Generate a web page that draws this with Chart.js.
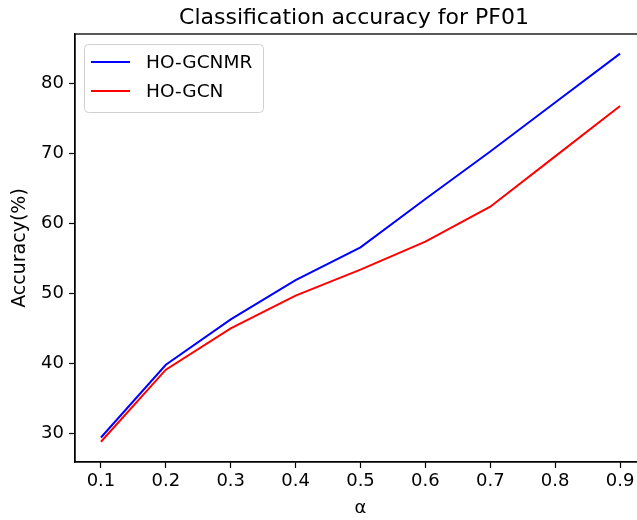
<!DOCTYPE html>
<html>
<head>
<meta charset="utf-8">
<script src="https://cdn.jsdelivr.net/npm/chart.js@4/dist/chart.umd.min.js"></script>
<style>
    html, body { margin: 0; padding: 0; background: #fff; overflow: hidden; }
    #wrap { width: 708px; height: 520px; }
</style>
</head>
<body>
<div id="wrap"><canvas id="chart" width="708" height="520"></canvas></div>
<script>
// 数据
const alphas = [0.1, 0.2, 0.3, 0.4, 0.5, 0.6, 0.7, 0.8, 0.9];
const accGcnmr = [29.4, 39.8, 46.3, 51.9, 56.6, 63.5, 70.3, 77.3, 84.3];
const accGcn = [28.8, 39.1, 45.0, 49.7, 53.4, 57.4, 62.4, 69.6, 76.8];
const seriesNames = ['HO-GCNMR', 'HO-GCN'];
const xTicks = [0.1, 0.2, 0.3, 0.4, 0.5, 0.6, 0.7, 0.8, 0.9];
const yTicks = [30, 40, 50, 60, 70, 80];

const FONT = "'DejaVu Sans', sans-serif";

const toPoints = (xs, ys) => xs.map((x, i) => ({ x: x, y: ys[i] }));

// 画出上边和右边的框线
const framePlugin = {
    id: 'frame',
    afterDraw(chart) {
        const { ctx, chartArea: a } = chart;
        ctx.save();
        ctx.strokeStyle = '#000';
        ctx.lineWidth = 1.3;
        ctx.strokeRect(a.left, a.top, a.right - a.left, a.bottom - a.top);
        ctx.restore();
    }
};

// matplotlib 风格的图例
const legendBoxPlugin = {
    id: 'legendBox',
    afterDraw(chart) {
        const { ctx, chartArea: a } = chart;
        const x = a.left + 9, y = a.top + 10, w = 179, h = 68;
        ctx.save();
        ctx.fillStyle = 'rgba(255,255,255,0.8)';
        ctx.strokeStyle = '#d0d0d0';
        ctx.lineWidth = 1;
        ctx.beginPath();
        ctx.roundRect(x + 0.5, y + 0.5, w, h, 4);
        ctx.fill();
        ctx.stroke();
        ctx.font = '18.5px ' + FONT;
        ctx.textBaseline = 'middle';
        chart.data.datasets.forEach((ds, i) => {
            const rowY = y + 18 + i * 29;
            ctx.strokeStyle = ds.borderColor;
            ctx.lineWidth = ds.borderWidth;
            ctx.beginPath();
            ctx.moveTo(x + 7, rowY);
            ctx.lineTo(x + 46, rowY);
            ctx.stroke();
            ctx.fillStyle = '#000';
            ctx.fillText(ds.label, x + 62, rowY + 1);
        });
        ctx.restore();
    }
};

const ctx = document.getElementById('chart').getContext('2d');
new Chart(ctx, {
    type: 'line',
    data: {
        datasets: [
            {
                label: seriesNames[0],
                data: toPoints(alphas, accGcnmr),
                borderColor: '#0000ff',
                borderWidth: 2,
                pointRadius: 0,
                tension: 0,
                fill: false
            },
            {
                label: seriesNames[1],
                data: toPoints(alphas, accGcn),
                borderColor: '#ff0000',
                borderWidth: 2,
                pointRadius: 0,
                tension: 0,
                fill: false
            }
        ]
    },
    options: {
        responsive: false,
        animation: false,
        layout: { padding: 0 },
        plugins: {
            legend: { display: false },
            tooltip: { enabled: false },
            title: {
                display: true,
                text: 'Classification accuracy for PF01',
                color: '#000',
                font: { family: FONT, size: 22, weight: 'normal' },
                padding: { top: 5, bottom: 2.6 }
            }
        },
        scales: {
            x: {
                type: 'linear',
                min: 0.06,
                max: 0.94,
                afterFit(scale) { scale.height = 58; },
                afterBuildTicks(scale) { scale.ticks = xTicks.map(v => ({ value: v })); },
                grid: { drawOnChartArea: false, tickLength: 6, tickColor: '#000', tickWidth: 1.2 },
                border: { color: '#000', width: 1.3 },
                ticks: {
                    color: '#000',
                    padding: 3,
                    maxRotation: 0,
                    font: { family: FONT, size: 18 },
                    callback: v => v.toFixed(1)
                },
                title: {
                    display: true,
                    text: 'α',
                    color: '#000',
                    font: { family: FONT, size: 18 },
                    padding: { top: 0, bottom: 1 }
                }
            },
            y: {
                type: 'linear',
                min: 25.9,
                max: 87.1,
                afterFit(scale) { scale.width = 75; },
                afterBuildTicks(scale) { scale.ticks = yTicks.map(v => ({ value: v })); },
                grid: { drawOnChartArea: false, tickLength: 6, tickColor: '#000', tickWidth: 1.2 },
                border: { color: '#000', width: 1.3 },
                ticks: {
                    color: '#000',
                    padding: 5,
                    font: { family: FONT, size: 18 },
                    callback: v => String(v)
                },
                title: {
                    display: true,
                    text: 'Accuracy(%)',
                    color: '#000',
                    font: { family: FONT, size: 19 },
                    padding: { top: 9, bottom: 0 }
                }
            },
            // 右侧留白，只用来占位
            yRight: {
                type: 'linear',
                position: 'right',
                display: true,
                min: 25.9,
                max: 87.1,
                afterFit(scale) { scale.width = 62; },
                grid: { display: false },
                border: { display: false },
                ticks: { display: false }
            }
        }
    },
    plugins: [framePlugin, legendBoxPlugin]
});
</script>
</body>
</html>
